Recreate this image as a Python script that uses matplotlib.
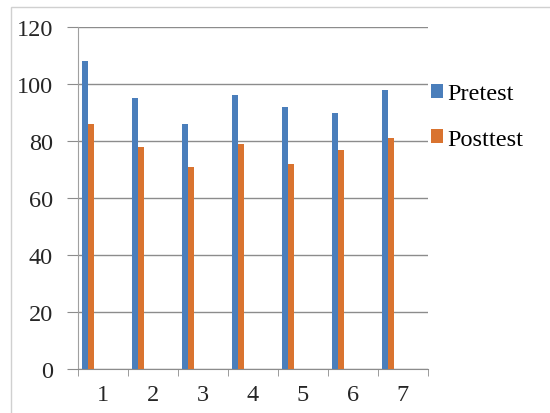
import numpy as np
import matplotlib
matplotlib.use('Agg')
import matplotlib.pyplot as plt
from matplotlib.patches import Rectangle

categories = ['1', '2', '3', '4', '5', '6', '7']
pretest = [108, 95, 86, 96, 92, 90, 98]
posttest = [86, 78, 71, 79, 72, 77, 81]
yticks = [0, 20, 40, 60, 80, 100, 120]

blue = '#4a7ebb'
orange = '#d9732f'
grid_col = '#8c8c8c'

plt.rcParams['font.family'] = ['Liberation Serif', 'DejaVu Serif']
plt.rcParams['font.size'] = 17.5

fig = plt.figure(figsize=(5.5, 4.14), dpi=100)
ax = fig.add_axes([78 / 550, 44 / 414, 350 / 550, 342 / 414])

x = np.arange(1, len(categories) + 1)
w = 0.12
ax.bar(x - 0.36, pretest, width=w, color=blue, label='Pretest', zorder=3)
ax.bar(x - 0.24, posttest, width=w, color=orange, label='Posttest', zorder=3)

ax.set_xlim(0.5, len(categories) + 0.5)
ax.set_ylim(0, 120)
ax.set_yticks(yticks)
ax.set_xticks(x)
ax.set_xticklabels(categories)
ax.set_xticks(np.arange(0.5, len(categories) + 1), minor=True)

ax.yaxis.grid(True, color=grid_col, linewidth=1, zorder=0)
ax.tick_params(axis='y', length=8, color=grid_col, pad=10, labelcolor='#262626')
ax.tick_params(axis='x', which='major', length=0, pad=11, labelcolor='#262626')
ax.tick_params(axis='x', which='minor', length=5, color=grid_col, direction='out')

for s in ['top', 'right']:
    ax.spines[s].set_visible(False)
ax.spines['left'].set_color('#a0a0a0')
ax.spines['bottom'].set_color(grid_col)

fig.legend(loc='center left', bbox_to_anchor=(431 / 550, 0.716), frameon=False,
           handlelength=0.5, handleheight=0.5, handletextpad=0.15,
           labelspacing=1.0, borderpad=0, borderaxespad=0, fontsize=17.5)

# light frame around the chart
fig.patches.append(Rectangle((11 / 550, -0.1), 1.1, (414 - 8) / 414 + 0.1,
                             transform=fig.transFigure, fill=False,
                             edgecolor='#d0d0d0', linewidth=1))

fig.savefig('out.png', dpi=100)
